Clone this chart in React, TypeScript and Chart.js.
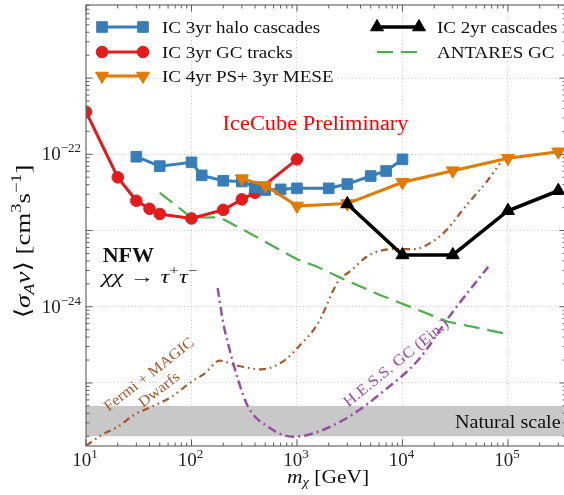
import React, { useEffect, useRef } from 'react';
import { Chart, registerables } from 'chart.js';

Chart.register(...registerables);

// ---------------- data ----------------
const haloMass = [30, 50, 100, 125, 200, 300, 400, 500, 700, 1000, 2000, 3000, 5000, 7000, 10000];
const haloSigma = [9.3e-23, 7.0e-23, 7.85e-23, 5.3e-23, 4.5e-23, 4.4e-23, 3.7e-23, 3.4e-23, 3.47e-23, 3.58e-23, 3.58e-23, 4.07e-23, 5.19e-23, 6.04e-23, 8.6e-23];

const gcMass = [10, 20, 30, 40, 50, 100, 200, 300, 400, 1000];
const gcSigma = [3.62e-22, 4.99e-23, 2.46e-23, 1.93e-23, 1.65e-23, 1.44e-23, 1.87e-23, 2.56e-23, 3.13e-23, 8.6e-23];

const psMass = [300, 500, 1000, 3000, 10000, 30000, 100000, 300000];
const psSigma = [4.8e-23, 3.9e-23, 2.1e-23, 2.26e-23, 4.3e-23, 6.1e-23, 8.9e-23, 1.08e-22];

const cascMass = [3000, 10000, 30000, 100000, 300000];
const cascSigma = [2.23e-23, 4.78e-24, 4.78e-24, 1.82e-23, 3.33e-23];

const antaresMass = [50, 100, 185, 320, 1000, 1500, 2650, 6100, 14100, 27100, 100000];
const antaresSigma = [3.13e-23, 1.48e-23, 1.49e-23, 1.0e-23, 4.19e-24, 3.42e-24, 2.36e-24, 1.43e-24, 9.06e-25, 6.36e-25, 4.38e-25];

const fermiMass = [10, 14, 20, 29, 42, 65, 100, 134, 185, 257, 460, 770, 1020, 1580, 2450, 3300, 4570, 6570, 9440, 13100, 19600, 26200, 40500, 62800, 84000];
const fermiSigma = [1.5e-26, 2.07e-26, 2.66e-26, 3.87e-26, 4.88e-26, 6.6e-26, 1.04e-25, 1.34e-25, 1.96e-25, 1.72e-25, 1.51e-25, 2.0e-25, 2.93e-25, 6.05e-25, 2.13e-24, 3.03e-24, 4.53e-24, 5.54e-24, 5.72e-24, 5.72e-24, 7.28e-24, 1.02e-23, 2.16e-23, 4.37e-23, 7.62e-23];

const hessMass = [177, 199, 222, 277, 344, 532, 918, 1585, 3290, 6810, 14100, 29200, 65000];
const hessSigma = [1.76e-24, 6.35e-25, 3.31e-25, 1.09e-25, 4.88e-26, 2.66e-26, 1.97e-26, 2.29e-26, 3.79e-26, 8.07e-26, 2.0e-25, 8.18e-25, 3.35e-24];

const naturalScale = [2e-26, 5e-26];

const seriesLabels = [
  'IC 3yr halo cascades',
  'IC 3yr GC tracks',
  'IC 4yr PS+ 3yr MESE',
  'IC 2yr cascades',
  'ANTARES GC',
  'Fermi + MAGIC Dwarfs',
  'H.E.S.S. GC (Ein.)',
];

const xTickExponents = [1, 2, 3, 4, 5];
const yTickExponents = [-22, -24];

const X_MIN = 10;
const X_MAX = 3.55e5;
const Y_MIN = 1.49e-26;
const Y_MAX = 9.1e-21;

// ---------------- styles ----------------
const BLUE = '#377eb8';
const RED = '#e41a1c';
const ORANGE = '#e07a00';
const BLACK = '#000000';
const GREEN = '#4daf4a';
const BROWN = '#a65628';
const PURPLE = '#984ea3';

const SERIF = "'Liberation Serif', 'DejaVu Serif', 'DejaVu Sans', serif";
const f = (size: number, style = '') => `${style} ${size}px ${SERIF}`.trim();

type Seg = { t: string; font: string; dy?: number };

function drawSegs(
  ctx: CanvasRenderingContext2D,
  segs: Seg[],
  x: number,
  y: number,
  align: 'left' | 'center' | 'right',
  color: string,
  rot = 0,
  sx = 1,
  baseDy = 0
) {
  ctx.save();
  ctx.translate(x, y);
  if (rot) ctx.rotate(rot);
  ctx.scale(sx, 1);
  ctx.textBaseline = 'alphabetic';
  ctx.textAlign = 'left';
  ctx.fillStyle = color;
  const widths = segs.map((s) => {
    ctx.font = s.font;
    return ctx.measureText(s.t).width;
  });
  const total = widths.reduce((a, b) => a + b, 0);
  let cx = align === 'left' ? 0 : align === 'center' ? -total / 2 : -total;
  segs.forEach((s, i) => {
    ctx.font = s.font;
    ctx.fillText(s.t, cx, baseDy + (s.dy || 0));
    cx += widths[i];
  });
  ctx.restore();
}

function logTicks(min: number, max: number) {
  const out: { value: number; major: boolean }[] = [];
  const e0 = Math.floor(Math.log10(min));
  const e1 = Math.ceil(Math.log10(max));
  for (let e = e0; e <= e1; e++) {
    for (let k = 1; k <= 9; k++) {
      const v = k * Math.pow(10, e);
      if (v >= min * 0.99999 && v <= max * 1.00001) out.push({ value: v, major: k === 1 });
    }
  }
  return out;
}

const isDecade = (v: number) => Math.abs(Math.log10(v) - Math.round(Math.log10(v))) < 1e-6;

const gridColor = (min: number, max: number) => (c: any) => {
  const v = c.tick ? c.tick.value : NaN;
  if (!isFinite(v)) return 'rgba(0,0,0,0)';
  if (!isDecade(v)) return 'rgba(0,0,0,0)';
  if (Math.abs(Math.log10(v) - Math.log10(min)) < 0.01 || Math.abs(Math.log10(v) - Math.log10(max)) < 0.01) return 'rgba(0,0,0,0)';
  return 'rgba(0,0,0,0.22)';
};

function drawMarker(ctx: CanvasRenderingContext2D, kind: string, x: number, y: number, r: number, color: string, rotation = 0) {
  ctx.save();
  ctx.fillStyle = color;
  ctx.strokeStyle = color;
  ctx.lineWidth = 1;
  ctx.beginPath();
  if (kind === 'rect') {
    const s = Math.SQRT1_2 * r;
    ctx.rect(x - s, y - s, 2 * s, 2 * s);
  } else if (kind === 'circle') {
    ctx.arc(x, y, r, 0, Math.PI * 2);
  } else if (kind === 'triangle') {
    let a = (rotation * Math.PI) / 180;
    ctx.moveTo(x + Math.sin(a) * r, y - Math.cos(a) * r);
    a += (2 * Math.PI) / 3;
    ctx.lineTo(x + Math.sin(a) * r, y - Math.cos(a) * r);
    a += (2 * Math.PI) / 3;
    ctx.lineTo(x + Math.sin(a) * r, y - Math.cos(a) * r);
    ctx.closePath();
  }
  ctx.fill();
  ctx.stroke();
  ctx.restore();
}

const pts = (xs: number[], ys: number[]) => xs.map((x, i) => ({ x, y: ys[i] }));

const decorPlugin = {
  id: 'decor',
  beforeDatasetsDraw(chart: any) {
    const { ctx, chartArea: a, scales } = chart;
    const y = scales.y;
    const yTop = y.getPixelForValue(naturalScale[1]);
    const yBot = y.getPixelForValue(naturalScale[0]);
    ctx.save();
    ctx.fillStyle = '#c8c8c8';
    ctx.fillRect(a.left, yTop, a.right - a.left, yBot - yTop);
    ctx.restore();
  },
  afterDatasetsDraw(chart: any) {
    const { ctx, chartArea: a, scales } = chart;
    const xs = scales.x;
    const ys = scales.y;

    // frame
    ctx.save();
    ctx.strokeStyle = '#6a6a6a';
    ctx.lineWidth = 1.2;
    ctx.strokeRect(a.left, a.top, a.right - a.left, a.bottom - a.top);

    // inward ticks
    ctx.strokeStyle = '#5a5a5a';
    ctx.lineWidth = 1;
    ctx.beginPath();
    for (const t of logTicks(X_MIN, X_MAX)) {
      const px = xs.getPixelForValue(t.value);
      const L = t.major ? 6.5 : 3.5;
      ctx.moveTo(px, a.bottom);
      ctx.lineTo(px, a.bottom - L);
      ctx.moveTo(px, a.top);
      ctx.lineTo(px, a.top + L);
    }
    for (const t of logTicks(Y_MIN, Y_MAX)) {
      const py = ys.getPixelForValue(t.value);
      const L = t.major ? 6.5 : 3.5;
      ctx.moveTo(a.left, py);
      ctx.lineTo(a.left + L, py);
      ctx.moveTo(a.right, py);
      ctx.lineTo(a.right - L, py);
    }
    ctx.stroke();
    ctx.restore();

    // tick labels
    for (const e of xTickExponents) {
      const px = xs.getPixelForValue(Math.pow(10, e));
      drawSegs(ctx, [{ t: '10', font: f(19) }, { t: String(e), font: f(13), dy: -8 }], px - 1, a.bottom + 19.5, 'center', '#222');
    }
    for (const e of yTickExponents) {
      const py = ys.getPixelForValue(Math.pow(10, e));
      drawSegs(ctx, [{ t: '10', font: f(19) }, { t: '\u2212' + String(-e), font: f(13), dy: -8 }], a.left - 5, py + 6, 'right', '#222');
    }

    // axis titles
    drawSegs(
      ctx,
      [
        { t: 'm', font: f(19, 'italic') },
        { t: '\u03c7', font: f(13, 'italic'), dy: 3 },
        { t: ' [GeV]', font: f(19) },
      ],
      (a.left + a.right) / 2 + 2,
      a.bottom + 37,
      'center',
      '#111',
      0,
      1.13
    );
    drawSegs(
      ctx,
      [
        { t: '\u27e8', font: f(22) },
        { t: '\u03c3', font: f(22, 'italic') },
        { t: 'A', font: f(15, 'italic'), dy: 4 },
        { t: 'v', font: f(22, 'italic') },
        { t: '\u27e9', font: f(22) },
        { t: ' [cm', font: f(22) },
        { t: '3', font: f(15), dy: -9 },
        { t: 's', font: f(22) },
        { t: '\u22121', font: f(15), dy: -9 },
        { t: ']', font: f(22) },
      ],
      30,
      (a.top + a.bottom) / 2 + 16,
      'center',
      '#111',
      -Math.PI / 2,
      1.22
    );

    // annotations
    drawSegs(ctx, [{ t: 'IceCube Preliminary', font: f(20) }], xs.getPixelForValue(197), ys.getPixelForValue(2.08e-22), 'left', '#ff0000', 0, 1.12);
    drawSegs(ctx, [{ t: 'NFW', font: f(22, 'bold') }], xs.getPixelForValue(14.4), ys.getPixelForValue(3.9e-24), 'left', '#111', 0, 1.0);
    drawSegs(
      ctx,
      [
        { t: '\u03c7\u03c7', font: f(19, 'italic') },
        { t: ' \u2192 ', font: f(19) },
        { t: '\u03c4', font: f(19, 'italic') },
        { t: '+', font: f(13), dy: -8 },
        { t: '\u03c4', font: f(19, 'italic') },
        { t: '\u2212', font: f(13), dy: -8 },
      ],
      xs.getPixelForValue(14.1),
      ys.getPixelForValue(2.05e-24),
      'left',
      '#111',
      0,
      1.3
    );
    const ang1 = (-38 * Math.PI) / 180;
    drawSegs(ctx, [{ t: 'Fermi + MAGIC', font: f(15) }], xs.getPixelForValue(39.3), ys.getPixelForValue(1.31e-25), 'center', BROWN, ang1, 1.08, 5);
    drawSegs(ctx, [{ t: 'Dwarfs', font: f(15) }], xs.getPixelForValue(49), ys.getPixelForValue(8.3e-26), 'center', BROWN, ang1, 1.08, 5);
    const ang2 = (-39 * Math.PI) / 180;
    drawSegs(ctx, [{ t: seriesLabels[6], font: f(15.5) }], xs.getPixelForValue(8650), ys.getPixelForValue(1.85e-25), 'center', PURPLE, ang2, 1.1, 5);
    drawSegs(ctx, [{ t: 'Natural scale', font: f(18) }], xs.getPixelForValue(3.16e5), ys.getPixelForValue(2.54e-26), 'right', '#111', 0, 1.12);

    // legend
    const ds = chart.data.datasets;
    const rows = [a.top + 22, a.top + 47, a.top + 71];
    const cols = [
      { x0: a.left + 16, x1: a.left + 57, tx: a.left + 76 },
      { x0: a.left + 291, x1: a.left + 333, tx: a.left + 351 },
    ];
    const entries = [
      { i: 0, c: 0, r: 0 },
      { i: 1, c: 0, r: 1 },
      { i: 2, c: 0, r: 2 },
      { i: 3, c: 1, r: 0 },
      { i: 4, c: 1, r: 1 },
    ];
    for (const en of entries) {
      const d = ds[en.i];
      const col = cols[en.c];
      const ry = rows[en.r];
      ctx.save();
      ctx.strokeStyle = d.borderColor;
      ctx.lineWidth = d.borderWidth;
      ctx.setLineDash(d.borderDash || []);
      ctx.beginPath();
      ctx.moveTo(col.x0, ry);
      ctx.lineTo(col.x1, ry);
      ctx.stroke();
      ctx.restore();
      if (d.pointRadius > 0) {
        drawMarker(ctx, d.pointStyle, col.x0, ry, d.pointRadius, d.borderColor, d.pointRotation || 0);
        drawMarker(ctx, d.pointStyle, col.x1, ry, d.pointRadius, d.borderColor, d.pointRotation || 0);
      }
      drawSegs(ctx, [{ t: d.label, font: f(17) }], col.tx, ry + 6, 'left', '#111', 0, 1.12);
    }
  },
};

export default function App() {
  const ref = useRef<HTMLCanvasElement>(null);

  useEffect(() => {
    const canvas = ref.current;
    if (!canvas) return;
    const chart = new Chart(canvas, {
      type: 'line',
      data: {
        datasets: [
          {
            label: seriesLabels[0],
            data: pts(haloMass, haloSigma),
            borderColor: BLUE,
            backgroundColor: BLUE,
            pointBackgroundColor: BLUE,
            borderWidth: 3,
            pointStyle: 'rect',
            pointRadius: 7.5,
            pointBorderWidth: 1,
            tension: 0,
            clip: 0,
            order: 2,
          },
          {
            label: seriesLabels[1],
            data: pts(gcMass, gcSigma),
            borderColor: RED,
            backgroundColor: RED,
            pointBackgroundColor: RED,
            borderWidth: 3,
            pointStyle: 'circle',
            pointRadius: 5.8,
            pointBorderWidth: 1,
            tension: 0,
            clip: 0,
            order: 3,
          },
          {
            label: seriesLabels[2],
            data: pts(psMass, psSigma),
            borderColor: ORANGE,
            backgroundColor: ORANGE,
            pointBackgroundColor: ORANGE,
            borderWidth: 3,
            pointStyle: 'triangle',
            pointRotation: 180,
            pointRadius: 7.5,
            pointBorderWidth: 1,
            tension: 0,
            clip: 0,
            order: 1,
          },
          {
            label: seriesLabels[3],
            data: pts(cascMass, cascSigma),
            borderColor: BLACK,
            backgroundColor: BLACK,
            pointBackgroundColor: BLACK,
            borderWidth: 3.6,
            pointStyle: 'triangle',
            pointRadius: 7.5,
            pointBorderWidth: 1,
            tension: 0,
            clip: 0,
            order: 0,
          },
          {
            label: seriesLabels[4],
            data: pts(antaresMass, antaresSigma),
            borderColor: GREEN,
            backgroundColor: GREEN,
            borderWidth: 2.2,
            borderDash: [16, 8],
            pointRadius: 0,
            tension: 0,
            clip: 0,
            order: 4,
          },
          {
            label: seriesLabels[5],
            data: pts(fermiMass, fermiSigma),
            borderColor: BROWN,
            backgroundColor: BROWN,
            borderWidth: 2.2,
            borderDash: [7, 4, 1.6, 4, 1.6, 4],
            pointRadius: 0,
            cubicInterpolationMode: 'monotone',
            clip: 0,
            order: 5,
          },
          {
            label: seriesLabels[6],
            data: pts(hessMass, hessSigma),
            borderColor: PURPLE,
            backgroundColor: PURPLE,
            borderWidth: 2.5,
            borderDash: [9, 4, 2, 4],
            pointRadius: 0,
            cubicInterpolationMode: 'monotone',
            clip: 0,
            order: 6,
          },
        ] as any,
      },
      options: {
        responsive: false,
        animation: false,
        events: [],
        layout: { autoPadding: false, padding: { top: 5, right: 4, left: 0, bottom: 0 } },
        plugins: { legend: { display: false }, tooltip: { enabled: false } },
        scales: {
          x: {
            type: 'logarithmic',
            position: 'bottom',
            bounds: 'data',
            min: X_MIN,
            max: X_MAX,
            afterBuildTicks: (s: any) => {
              s.ticks = logTicks(X_MIN, X_MAX);
            },
            afterFit: (s: any) => {
              s.height = 49;
            },
            ticks: { display: false, autoSkip: false },
            grid: { color: gridColor(X_MIN, X_MAX), lineWidth: 1, drawTicks: false, borderDash: [1, 2.5] } as any,
            border: { display: false, dash: [1, 2.5] },
          },
          y: {
            type: 'logarithmic',
            position: 'left',
            bounds: 'data',
            min: Y_MIN,
            max: Y_MAX,
            afterBuildTicks: (s: any) => {
              s.ticks = logTicks(Y_MIN, Y_MAX);
            },
            afterFit: (s: any) => {
              s.width = 86;
            },
            ticks: { display: false, autoSkip: false },
            grid: { color: gridColor(Y_MIN, Y_MAX), lineWidth: 1, drawTicks: false, borderDash: [1, 2.5] } as any,
            border: { display: false, dash: [1, 2.5] },
          },
        },
      } as any,
      plugins: [decorPlugin],
    });
    return () => chart.destroy();
  }, []);

  return (
    <div style={{ position: 'absolute', left: 0, top: 0, width: 564, height: 495, overflow: 'hidden', background: '#fff' }}>
      <canvas ref={ref} width={570} height={495} style={{ display: 'block' }} />
    </div>
  );
}
